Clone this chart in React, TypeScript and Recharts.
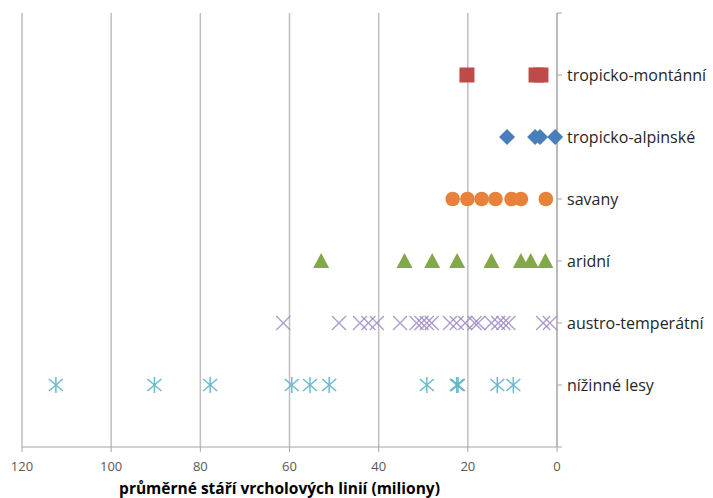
import { ScatterChart, Scatter, XAxis, YAxis, CartesianGrid } from "recharts";

// kategorie na ose Y (1 = dole)
const categories = [
  "nížinné lesy",
  "austro-temperátní",
  "aridní",
  "savany",
  "tropicko-alpinské",
  "tropicko-montánní",
];
const xTicks = [0, 20, 40, 60, 80, 100, 120];
const yTicks = [0, 1, 2, 3, 4, 5, 6, 7];

// průměrné stáří (miliony let)
const montanni = [20.2, 4.7, 3.6];
const alpinske = [11.2, 4.9, 3.8, 0.4];
const savany = [23.4, 20.1, 16.9, 13.8, 10.2, 8.1, 2.5];
const aridni = [52.9, 34.2, 28.0, 22.4, 14.7, 8.1, 5.9, 2.6];
const austro = [
  61.4, 48.9, 44.2, 42.3, 40.4, 35.2, 31.5, 30.4, 29.2, 28.1, 24.0, 22.5, 20.6,
  18.5, 17.7, 14.7, 13.2, 12.0, 10.9, 3.1, 1.6,
];
const nizinne = [112.4, 90.3, 77.8, 59.5, 55.4, 51.1, 29.2, 22.5, 22.2, 13.4, 9.8];

const toPoints = (vals: number[], level: number) =>
  vals.map((age) => ({ age, level }));

const Square = ({ cx, cy }: any) => (
  <rect x={cx - 7.5} y={cy - 7.5} width={15} height={15} fill="#BE4B48" />
);
const Diamond = ({ cx, cy }: any) => (
  <polygon
    points={`${cx},${cy - 8} ${cx + 8},${cy} ${cx},${cy + 8} ${cx - 8},${cy}`}
    fill="#4A7EBB"
  />
);
const Dot = ({ cx, cy }: any) => <circle cx={cx} cy={cy} r={7.3} fill="#E8823A" />;
const Triangle = ({ cx, cy }: any) => (
  <polygon
    points={`${cx},${cy - 8} ${cx + 8},${cy + 7} ${cx - 8},${cy + 7}`}
    fill="#82A84A"
  />
);
const Cross = ({ cx, cy }: any) => (
  <g stroke="#9E8AC2" strokeWidth={1.3} opacity={0.85}>
    <line x1={cx - 7} y1={cy - 7} x2={cx + 7} y2={cy + 7} />
    <line x1={cx - 7} y1={cy + 7} x2={cx + 7} y2={cy - 7} />
  </g>
);
const Star = ({ cx, cy }: any) => (
  <g stroke="#5BB3C9" strokeWidth={1.5} opacity={0.9}>
    <line x1={cx - 7} y1={cy - 6} x2={cx + 7} y2={cy + 6} />
    <line x1={cx - 7} y1={cy + 6} x2={cx + 7} y2={cy - 6} />
    <line x1={cx} y1={cy - 8} x2={cx} y2={cy + 8} />
  </g>
);

export default function App() {
  return (
    <div style={{ position: "absolute", left: 0, top: 0, background: "#fff" }}>
      <ScatterChart
        width={713}
        height={498}
        margin={{ top: 13, right: 0, left: 22, bottom: 0 }}
        style={{ fontFamily: "'Open Sans', sans-serif" }}
      >
        <CartesianGrid horizontal={false} stroke="#BFBFBF" strokeWidth={1.5} />
        <XAxis
          type="number"
          dataKey="age"
          domain={[0, 120]}
          ticks={xTicks}
          reversed
          height={51}
          stroke="#A6A6A6"
          tickSize={5}
          tickMargin={10}
          tick={{ fill: "#595959", fontSize: 13 }}
          label={{
            value: "průměrné stáří vrcholových linií (miliony)",
            position: "insideBottom",
            offset: 4,
            dx: -10,
            fill: "#000",
            fontSize: 15.5,
            fontWeight: 700,
          }}
        />
        <YAxis
          type="number"
          dataKey="level"
          orientation="right"
          domain={[0, 7]}
          ticks={yTicks}
          width={156}
          stroke="#A6A6A6"
          tickSize={5}
          tickMargin={5}
          tick={{ fill: "#262626", fontSize: 16 }}
          tickFormatter={(v: number) => categories[v - 1] ?? ""}
        />
        <Scatter data={toPoints(nizinne, 1)} shape={<Star />} isAnimationActive={false} />
        <Scatter data={toPoints(austro, 2)} shape={<Cross />} isAnimationActive={false} />
        <Scatter data={toPoints(aridni, 3)} shape={<Triangle />} isAnimationActive={false} />
        <Scatter data={toPoints(savany, 4)} shape={<Dot />} isAnimationActive={false} />
        <Scatter data={toPoints(alpinske, 5)} shape={<Diamond />} isAnimationActive={false} />
        <Scatter data={toPoints(montanni, 6)} shape={<Square />} isAnimationActive={false} />
      </ScatterChart>
    </div>
  );
}
